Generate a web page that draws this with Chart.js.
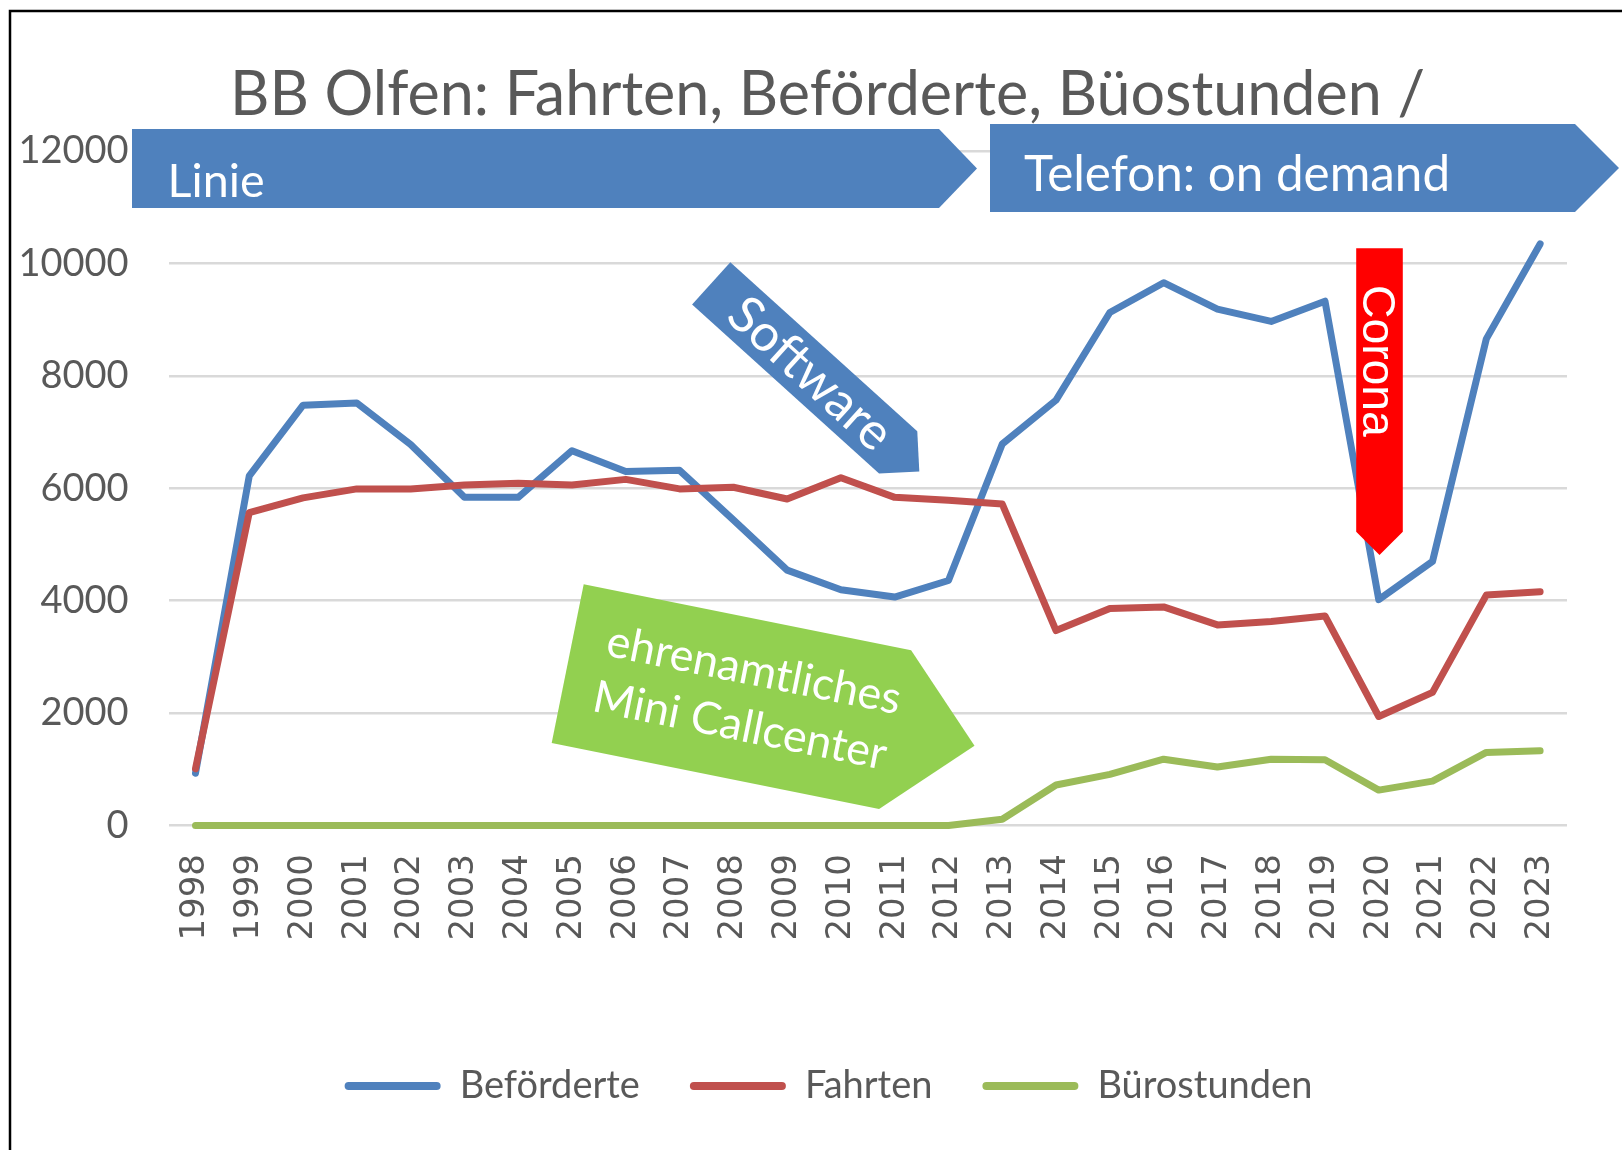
<!DOCTYPE html>
<html>
<head>
<meta charset="utf-8">
<script src="https://cdn.jsdelivr.net/npm/chart.js@4.4.0/dist/chart.umd.min.js"></script>
<style>
  html, body { margin: 0; padding: 0; background: #fff; }
  #wrap { position: relative; width: 1622px; height: 1150px; }
</style>
</head>
<body>
<div id="wrap"><canvas id="bb-chart" width="1622" height="1150"></canvas></div>
<script>
const years = ['1998', '1999', '2000', '2001', '2002', '2003', '2004', '2005', '2006', '2007', '2008', '2009', '2010',
  '2011', '2012', '2013', '2014', '2015', '2016', '2017', '2018', '2019', '2020', '2021', '2022', '2023'];
const befoerderte = [930, 6220, 7480, 7520, 6780, 5840, 5840, 6670, 6300, 6320, 5440, 4545, 4195,
  4065, 4360, 6790, 7570, 9130, 9660, 9190, 8970, 9330, 4020, 4700, 8660, 10350];
const fahrten = [1010, 5570, 5830, 5990, 5990, 6060, 6090, 6060, 6160, 5990, 6020, 5810, 6190,
  5840, 5790, 5720, 3470, 3860, 3890, 3570, 3630, 3730, 1940, 2370, 4100, 4160];
const buerostunden = [0, 0, 0, 0, 0, 0, 0, 0, 0, 0, 0, 0, 0,
  0, 0, 110, 720, 910, 1180, 1040, 1180, 1170, 630, 790, 1300, 1330];
const titleText = 'BB Olfen: Fahrten, Beförderte, Büostunden /';

const gray = '#595959';
const blue = '#4F81BD';

// font size so that a text gets a given width
function fitFont(ctx, text, width, family) {
  ctx.font = '100px ' + family;
  const w = ctx.measureText(text).width;
  return (100 * width / w).toFixed(1) + 'px ' + family;
}

// office style "home plate" arrow, starting at the middle of its back edge
function homePlate(ctx, x, y, angle, len, w, head, color) {
  ctx.save();
  ctx.translate(x, y);
  ctx.rotate(angle);
  ctx.beginPath();
  ctx.moveTo(0, -w / 2);
  ctx.lineTo(len - head, -w / 2);
  ctx.lineTo(len, 0);
  ctx.lineTo(len - head, w / 2);
  ctx.lineTo(0, w / 2);
  ctx.closePath();
  ctx.fillStyle = color;
  ctx.fill();
  ctx.restore();
}

// title and legend are not centred on the canvas in the original
const shiftBoxes = {
  id: 'shiftBoxes',
  afterLayout(chart) {
    if (chart.titleBlock) { chart.titleBlock.left += 44; chart.titleBlock.right += 44; }
    if (chart.legend) { chart.legend.left += 45; chart.legend.right += 45; }
  }
};

const shapes = {
  id: 'shapes',
  afterDraw(chart) {
    const ctx = chart.ctx;
    ctx.save();

    // frame of the screenshot
    ctx.strokeStyle = '#000';
    ctx.lineWidth = 2.5;
    ctx.beginPath();
    ctx.moveTo(10, 1150);
    ctx.lineTo(10, 11);
    ctx.lineTo(1622, 11);
    ctx.stroke();

    // Linie
    homePlate(ctx, 132, 168.5, 0, 845, 79, 38, blue);
    ctx.fillStyle = '#fff';
    ctx.textBaseline = 'alphabetic';
    ctx.textAlign = 'left';
    ctx.font = fitFont(ctx, 'Linie', 97, 'Lato');
    ctx.fillText('Linie', 167.6, 196.5);

    // Telefon: on demand
    homePlate(ctx, 990, 168, 0, 629, 88, 44, blue);
    ctx.fillStyle = '#fff';
    ctx.font = fitFont(ctx, 'Telefon: on demand', 426, 'Lato');
    ctx.fillText('Telefon: on demand', 1024, 191.4);

    // Software
    const aSw = Math.atan2(169, 187);
    homePlate(ctx, 711.2, 283.4, aSw, 280.5, 57, 28.5, blue);
    ctx.save();
    ctx.translate(711.2, 283.4);
    ctx.rotate(aSw);
    ctx.fillStyle = '#fff';
    ctx.textAlign = 'center';
    ctx.textBaseline = 'middle';
    ctx.font = fitFont(ctx, 'Software', 201, 'Lato');
    ctx.fillText('Software', 134, 1);
    ctx.restore();

    // ehrenamtliches Mini Callcenter
    const aGr = Math.atan2(198, 982);
    homePlate(ctx, 567.7, 663.7, aGr, 415, 162, 81, '#92D050');
    ctx.save();
    ctx.translate(567.7, 663.7);
    ctx.rotate(aGr);
    ctx.fillStyle = '#fff';
    ctx.textAlign = 'center';
    ctx.textBaseline = 'middle';
    ctx.font = fitFont(ctx, 'ehrenamtliches', 299, 'Lato');
    ctx.fillText('ehrenamtliches', 184, -30);
    ctx.fillText('Mini Callcenter', 181, 27);
    ctx.restore();

    // Corona
    homePlate(ctx, 1379.5, 248.3, Math.PI / 2, 306.7, 46.6, 23.3, '#FF0000');
    ctx.save();
    ctx.translate(1379.5, 248.3);
    ctx.rotate(Math.PI / 2);
    ctx.fillStyle = '#fff';
    ctx.textAlign = 'left';
    ctx.textBaseline = 'alphabetic';
    ctx.font = fitFont(ctx, 'Corona', 152, '"Liberation Sans"');
    ctx.fillText('Corona', 36.7, 17);
    ctx.restore();

    ctx.restore();
  }
};

const measure = document.createElement('canvas').getContext('2d');
measure.font = '100px Lato';
const titleSize = Math.round(100 * 1196 / measure.measureText(titleText).width);

const ctx = document.getElementById('bb-chart').getContext('2d');

const bbChart = new Chart(ctx, {
  type: 'line',
  data: {
    labels: years,
    datasets: [
      { label: 'Beförderte', data: befoerderte, borderColor: blue, backgroundColor: blue, order: 3, clip: false },
      { label: 'Fahrten', data: fahrten, borderColor: '#C0504D', backgroundColor: '#C0504D', order: 2, clip: false },
      { label: 'Bürostunden', data: buerostunden, borderColor: '#9BBB59', backgroundColor: '#9BBB59', order: 1, clip: false }
    ]
  },
  options: {
    responsive: false,
    animation: false,
    layout: { padding: { left: 0, right: 55, top: 0, bottom: 35 } },
    elements: {
      line: { borderWidth: 7, tension: 0, borderCapStyle: 'round', borderJoinStyle: 'round' },
      point: { radius: 0 }
    },
    scales: {
      x: {
        offset: true,
        grid: { display: false, drawTicks: false },
        border: { display: false },
        ticks: {
          autoSkip: false, minRotation: 90, maxRotation: 90, padding: 28.5,
          color: gray, font: { family: 'DejaVu Sans', size: 34 }
        },
        afterFit(scale) { scale.height = 191.5; }
      },
      y: {
        min: 0,
        max: 12000,
        ticks: {
          stepSize: 2000, padding: 40, color: gray, font: { family: 'Lato', size: 38 },
          callback: value => String(value)
        },
        grid: { color: '#D9D9D9', lineWidth: 2.5, drawTicks: false },
        border: { display: false },
        afterFit(scale) { scale.width = 168.6; }
      }
    },
    plugins: {
      title: {
        display: true,
        text: titleText,
        color: gray,
        font: { family: 'Lato', size: titleSize, weight: 'normal' },
        padding: { top: 59, bottom: 19 }
      },
      legend: {
        position: 'bottom',
        labels: {
          boxWidth: 96,
          boxHeight: 8,
          padding: 50,
          color: gray,
          useBorderRadius: true,
          borderRadius: 4,
          font: { family: 'Lato', size: 38 },
          sort: (a, b) => a.datasetIndex - b.datasetIndex,
          generateLabels(chart) {
            const items = Chart.defaults.plugins.legend.labels.generateLabels(chart);
            items.forEach(item => { item.lineWidth = 0; });
            return items;
          }
        }
      },
      tooltip: { enabled: false }
    }
  },
  plugins: [shiftBoxes, shapes]
});
</script>
</body>
</html>
